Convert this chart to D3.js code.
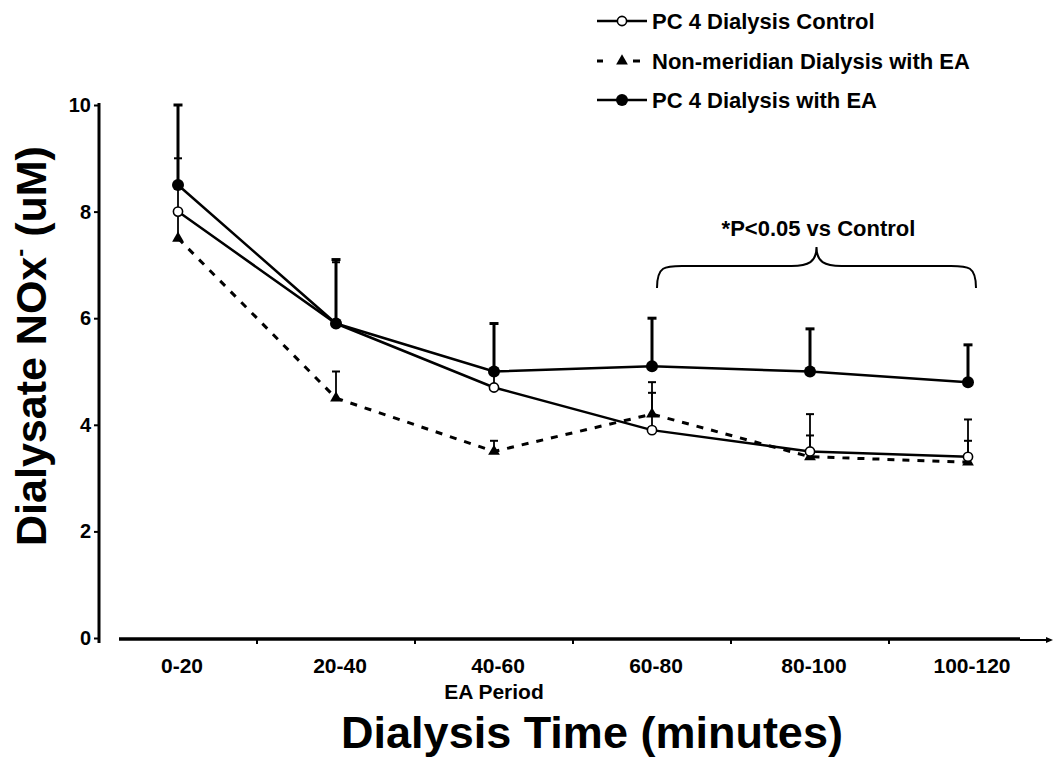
<!DOCTYPE html>
<html>
<head>
<meta charset="utf-8">
<script src="https://cdn.jsdelivr.net/npm/d3@7"></script>
<style>
  html, body { margin: 0; padding: 0; background: #fff; }
  svg { display: block; }
  text { font-family: "Liberation Sans", Arial, Helvetica, sans-serif; font-weight: bold; fill: #000; }
</style>
</head>
<body>
<svg id="chart" width="1054" height="772"></svg>
<script>
// ---- data ----
const categories = ["0-20", "20-40", "40-60", "60-80", "80-100", "100-120"];
const yTicks = [0, 2, 4, 6, 8, 10];
const seriesNames = ["PC 4 Dialysis Control", "Non-meridian Dialysis with EA", "PC 4 Dialysis with EA"];
const controlValues = [8.0, 5.9, 4.7, 3.9, 3.5, 3.4];
const controlErr    = [1.0, 1.15, 0.3, 0.7, 0.7, 0.7];
const nonMeridianValues = [7.5, 4.5, 3.5, 4.2, 3.4, 3.3];
const nonMeridianErr    = [0.5, 0.5, 0.2, 0.6, 0.4, 0.4];
const eaValues = [8.5, 5.9, 5.0, 5.1, 5.0, 4.8];
const eaErr    = [1.5, 1.2, 0.9, 0.9, 0.8, 0.7];
const xTitle = "Dialysis Time (minutes)";
const eaPeriodLabel = "EA Period";
const sigLabel = "*P<0.05 vs Control";
const sigRange = ["60-80", "100-120"];

// ---- setup ----
const svg = d3.select("#chart");
const x = d3.scaleBand().domain(categories).range([99, 1047]).padding(0);
const cx = c => x(c) + x.bandwidth() / 2;
const y = d3.scaleLinear().domain([0, 10]).range([638, 105]);

// ---- y axis ----
const yAxis = svg.append("g").attr("transform", "translate(99,0)")
  .call(d3.axisLeft(y).tickValues(yTicks).tickSize(5).tickPadding(3).tickSizeOuter(0));
yAxis.select(".domain").remove();
yAxis.append("line").attr("x1", 0).attr("x2", 0).attr("y1", y(10) - 2).attr("y2", y(0) + 5)
  .attr("stroke", "#000").attr("stroke-width", 3);
yAxis.selectAll(".tick line").attr("stroke", "#000").attr("stroke-width", 2);
yAxis.selectAll(".tick text").attr("font-size", 20).attr("fill", "#000")
  .style("font-family", "'Liberation Sans', Arial, sans-serif").style("font-weight", "bold");

// ---- x axis ----
const xAxis = svg.append("g").attr("transform", "translate(0,639)")
  .call(d3.axisBottom(x).tickSize(0).tickPadding(19));
xAxis.select(".domain").remove();
xAxis.selectAll(".tick text").attr("font-size", 21).attr("fill", "#000")
  .attr("dx", 4)
  .style("font-family", "'Liberation Sans', Arial, sans-serif").style("font-weight", "bold");
xAxis.append("line").attr("x1", 119).attr("x2", 1020).attr("y1", 0).attr("y2", 0)
  .attr("stroke", "#000").attr("stroke-width", 3.5);
xAxis.append("line").attr("x1", 1020).attr("x2", 1050).attr("y1", 1).attr("y2", 1)
  .attr("stroke", "#000").attr("stroke-width", 2);
xAxis.append("path").attr("d", "M1046,-2 L1053,1 L1046,4 Z").attr("fill", "#000");
xAxis.selectAll(".bnd").data(categories.slice(1)).join("line").attr("class", "bnd")
  .attr("x1", d => x(d)).attr("x2", d => x(d)).attr("y1", 0).attr("y2", 5)
  .attr("stroke", "#000").attr("stroke-width", 2);

// EA period label
svg.append("text").attr("x", cx("40-60")).attr("y", 699).attr("text-anchor", "middle")
  .attr("font-size", 21).text(eaPeriodLabel);

// axis titles
svg.append("text").attr("x", 592).attr("y", 748).attr("text-anchor", "middle")
  .attr("font-size", 45).text(xTitle);
const yt = svg.append("text").attr("transform", "translate(46,346) rotate(-90)")
  .attr("text-anchor", "middle").attr("font-size", 43);
yt.append("tspan").text("Dialysate NOx");
yt.append("tspan").attr("font-size", 24).attr("dy", -18).text("-");
yt.append("tspan").attr("dy", 18).text(" (uM)");

// ---- series ----
const line = d3.line().x((d, i) => cx(categories[i])).y(d => y(d));

svg.append("path").datum(nonMeridianValues).attr("d", line).attr("fill", "none")
  .attr("stroke", "#000").attr("stroke-width", 3).attr("stroke-dasharray", "7,8");
svg.append("path").datum(controlValues).attr("d", line).attr("fill", "none")
  .attr("stroke", "#000").attr("stroke-width", 2.5);
svg.append("path").datum(eaValues).attr("d", line).attr("fill", "none")
  .attr("stroke", "#000").attr("stroke-width", 2.5);

function errBars(vals, errs, sw, capW, capSw) {
  const g = svg.append("g");
  const d = vals.map((v, i) => ({ c: categories[i], v, e: errs[i] }));
  g.selectAll("line.stem").data(d).join("line").attr("class", "stem")
    .attr("x1", a => cx(a.c)).attr("x2", a => cx(a.c))
    .attr("y1", a => y(a.v)).attr("y2", a => y(a.v + a.e))
    .attr("stroke", "#000").attr("stroke-width", sw);
  g.selectAll("line.cap").data(d).join("line").attr("class", "cap")
    .attr("x1", a => cx(a.c) - capW / 2).attr("x2", a => cx(a.c) + capW / 2)
    .attr("y1", a => y(a.v + a.e)).attr("y2", a => y(a.v + a.e))
    .attr("stroke", "#000").attr("stroke-width", capSw);
}
errBars(nonMeridianValues, nonMeridianErr, 1.8, 8, 2);
errBars(controlValues, controlErr, 1.8, 8, 2);
errBars(eaValues, eaErr, 3, 9, 3);

const tri = d3.symbol().type(d3.symbolTriangle).size(60);
svg.append("g").selectAll("path").data(nonMeridianValues).join("path")
  .attr("transform", (d, i) => `translate(${cx(categories[i])},${y(d)})`)
  .attr("d", tri).attr("fill", "#000");
svg.append("g").selectAll("circle").data(controlValues).join("circle")
  .attr("cx", (d, i) => cx(categories[i])).attr("cy", d => y(d)).attr("r", 4.6)
  .attr("fill", "#fff").attr("stroke", "#000").attr("stroke-width", 1.6);
svg.append("g").selectAll("circle").data(eaValues).join("circle")
  .attr("cx", (d, i) => cx(categories[i])).attr("cy", d => y(d)).attr("r", 6)
  .attr("fill", "#000");

// ---- significance brace ----
const bx1 = cx(sigRange[0]) + 5, bx2 = cx(sigRange[1]) + 8, bm = (bx1 + bx2) / 2;
const bTop = 266, bBot = 288, bPeak = 247;
svg.append("path")
  .attr("d", `M${bx1},${bBot} C${bx1},${bTop} ${bx1 + 8},${bTop} ${bx1 + 25},${bTop}
              L${bm - 25},${bTop} C${bm - 8},${bTop} ${bm},${bTop - 4} ${bm},${bPeak}
              C${bm},${bTop - 4} ${bm + 8},${bTop} ${bm + 25},${bTop}
              L${bx2 - 25},${bTop} C${bx2 - 8},${bTop} ${bx2},${bTop} ${bx2},${bBot}`)
  .attr("fill", "none").attr("stroke", "#000").attr("stroke-width", 2);
svg.append("text").attr("x", bm + 2).attr("y", 236).attr("text-anchor", "middle")
  .attr("font-size", 22).text(sigLabel);

// ---- legend ----
const lg = svg.append("g");
const lx1 = 597, lx2 = 647, lmx = 622, ltx = 652;
const rows = [21, 61, 100];
// row 1: control
lg.append("line").attr("x1", lx1).attr("x2", lx2).attr("y1", rows[0]).attr("y2", rows[0])
  .attr("stroke", "#000").attr("stroke-width", 2.5);
lg.append("circle").attr("cx", lmx).attr("cy", rows[0]).attr("r", 4.6)
  .attr("fill", "#fff").attr("stroke", "#000").attr("stroke-width", 1.6);
// row 2: non-meridian
[[597, 603], [633, 640]].forEach(s => lg.append("line").attr("x1", s[0]).attr("x2", s[1])
  .attr("y1", rows[1]).attr("y2", rows[1]).attr("stroke", "#000").attr("stroke-width", 3));
lg.append("path").attr("transform", `translate(${lmx},${rows[1]})`).attr("d", tri).attr("fill", "#000");
// row 3: EA
lg.append("line").attr("x1", lx1).attr("x2", lx2).attr("y1", rows[2]).attr("y2", rows[2])
  .attr("stroke", "#000").attr("stroke-width", 2.5);
lg.append("circle").attr("cx", lmx).attr("cy", rows[2]).attr("r", 6).attr("fill", "#000");
lg.selectAll("text").data(seriesNames).join("text")
  .attr("x", ltx).attr("y", (d, i) => rows[i] + 8).attr("font-size", 22).text(d => d);
</script>
</body>
</html>
